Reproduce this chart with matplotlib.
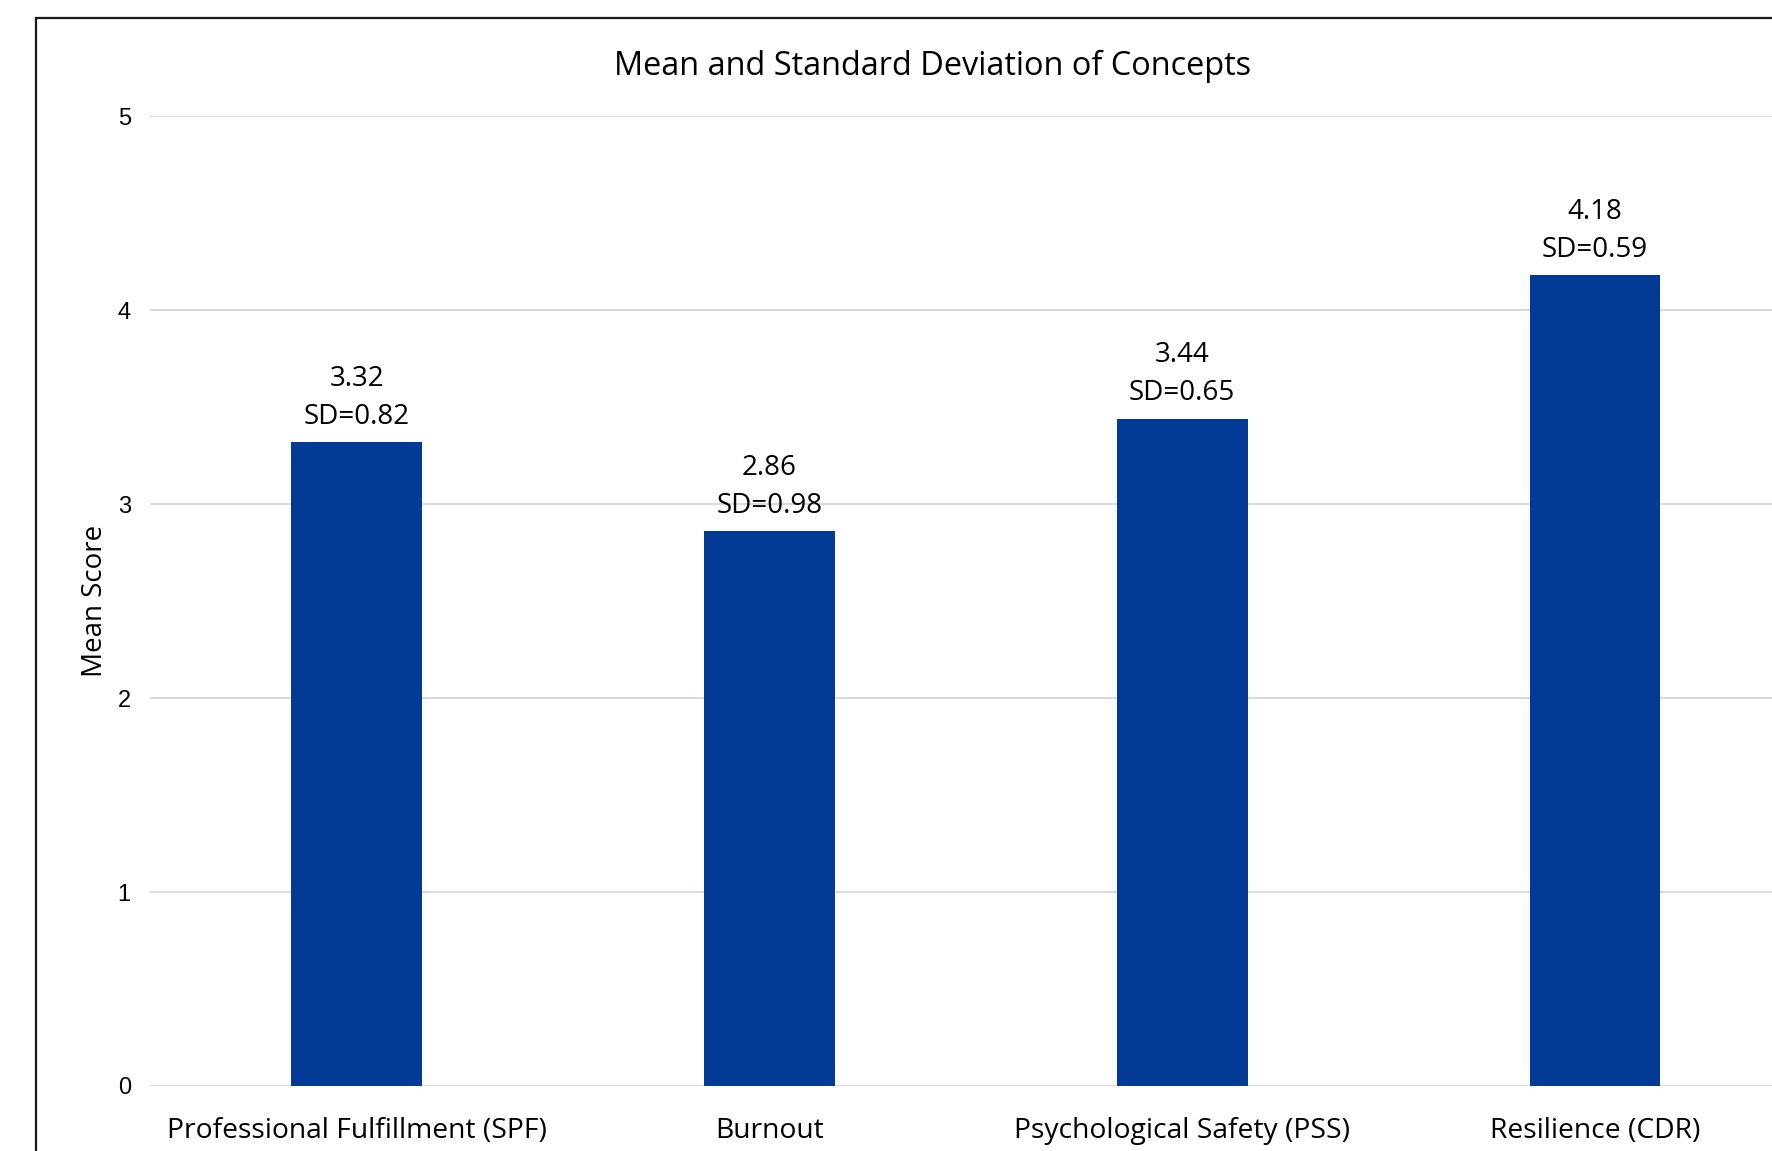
import matplotlib.pyplot as plt
from matplotlib.patches import Rectangle
import numpy as np

conceitos = ['Professional Fulfillment (SPF)', 'Burnout',
             'Psychological Safety (PSS)', 'Resilience (CDR)']
medias = [3.32, 2.86, 3.44, 4.18]
desvios = [0.82, 0.98, 0.65, 0.59]
yticks = [0, 1, 2, 3, 4, 5]

AZUL = '#023A96'
FONTE = 'Open Sans'

fig = plt.figure(figsize=(17.72, 11.51), dpi=100)
fig.patch.set_facecolor('white')

# moldura do grafico (sai pela direita e por baixo)
fig.patches.append(Rectangle((36 / 1772, -0.05), 1.1, 0.05 + 1 - 18 / 1151,
                             transform=fig.transFigure, fill=False,
                             edgecolor='#1a1a1a', linewidth=1.6, zorder=0))

ax = fig.add_axes([150.3 / 1772, 65 / 1151, 1651 / 1772, 969.6 / 1151])

x = np.arange(len(conceitos))
ax.bar(x, medias, width=0.317, color=AZUL, zorder=3)

ax.set_xlim(-0.5, len(conceitos) - 0.5)
ax.set_ylim(0, 5)
ax.set_yticks(yticks)
ax.set_yticklabels([str(t) for t in yticks], fontsize=17, family='Liberation Sans')
ax.set_xticks(x)
ax.set_xticklabels(conceitos, fontsize=20.3, family=FONTE)
ax.tick_params(axis='both', length=0)
ax.tick_params(axis='y', pad=14)
ax.tick_params(axis='x', pad=22)

ax.grid(axis='y', color='#D9D9D9', linewidth=1.4, zorder=0)
for s in ax.spines.values():
    s.set_visible(False)

ax.set_ylabel('Mean Score', fontsize=20, family=FONTE, labelpad=6)

for xi, m, sd in zip(x, medias, desvios):
    ax.annotate(f'SD={sd:.2f}', (xi, m), xytext=(0, 18.4), textcoords='offset points',
                ha='center', va='center', fontsize=20, family=FONTE)
    ax.annotate(f'{m:.2f}', (xi, m), xytext=(0, 45.8), textcoords='offset points',
                ha='center', va='center', fontsize=20, family=FONTE)

fig.text(933 / 1772, 1 - 66.5 / 1151, 'Mean and Standard Deviation of Concepts',
         ha='center', va='center', fontsize=23.4, family=FONTE)

fig.savefig('out.png', dpi=100)
